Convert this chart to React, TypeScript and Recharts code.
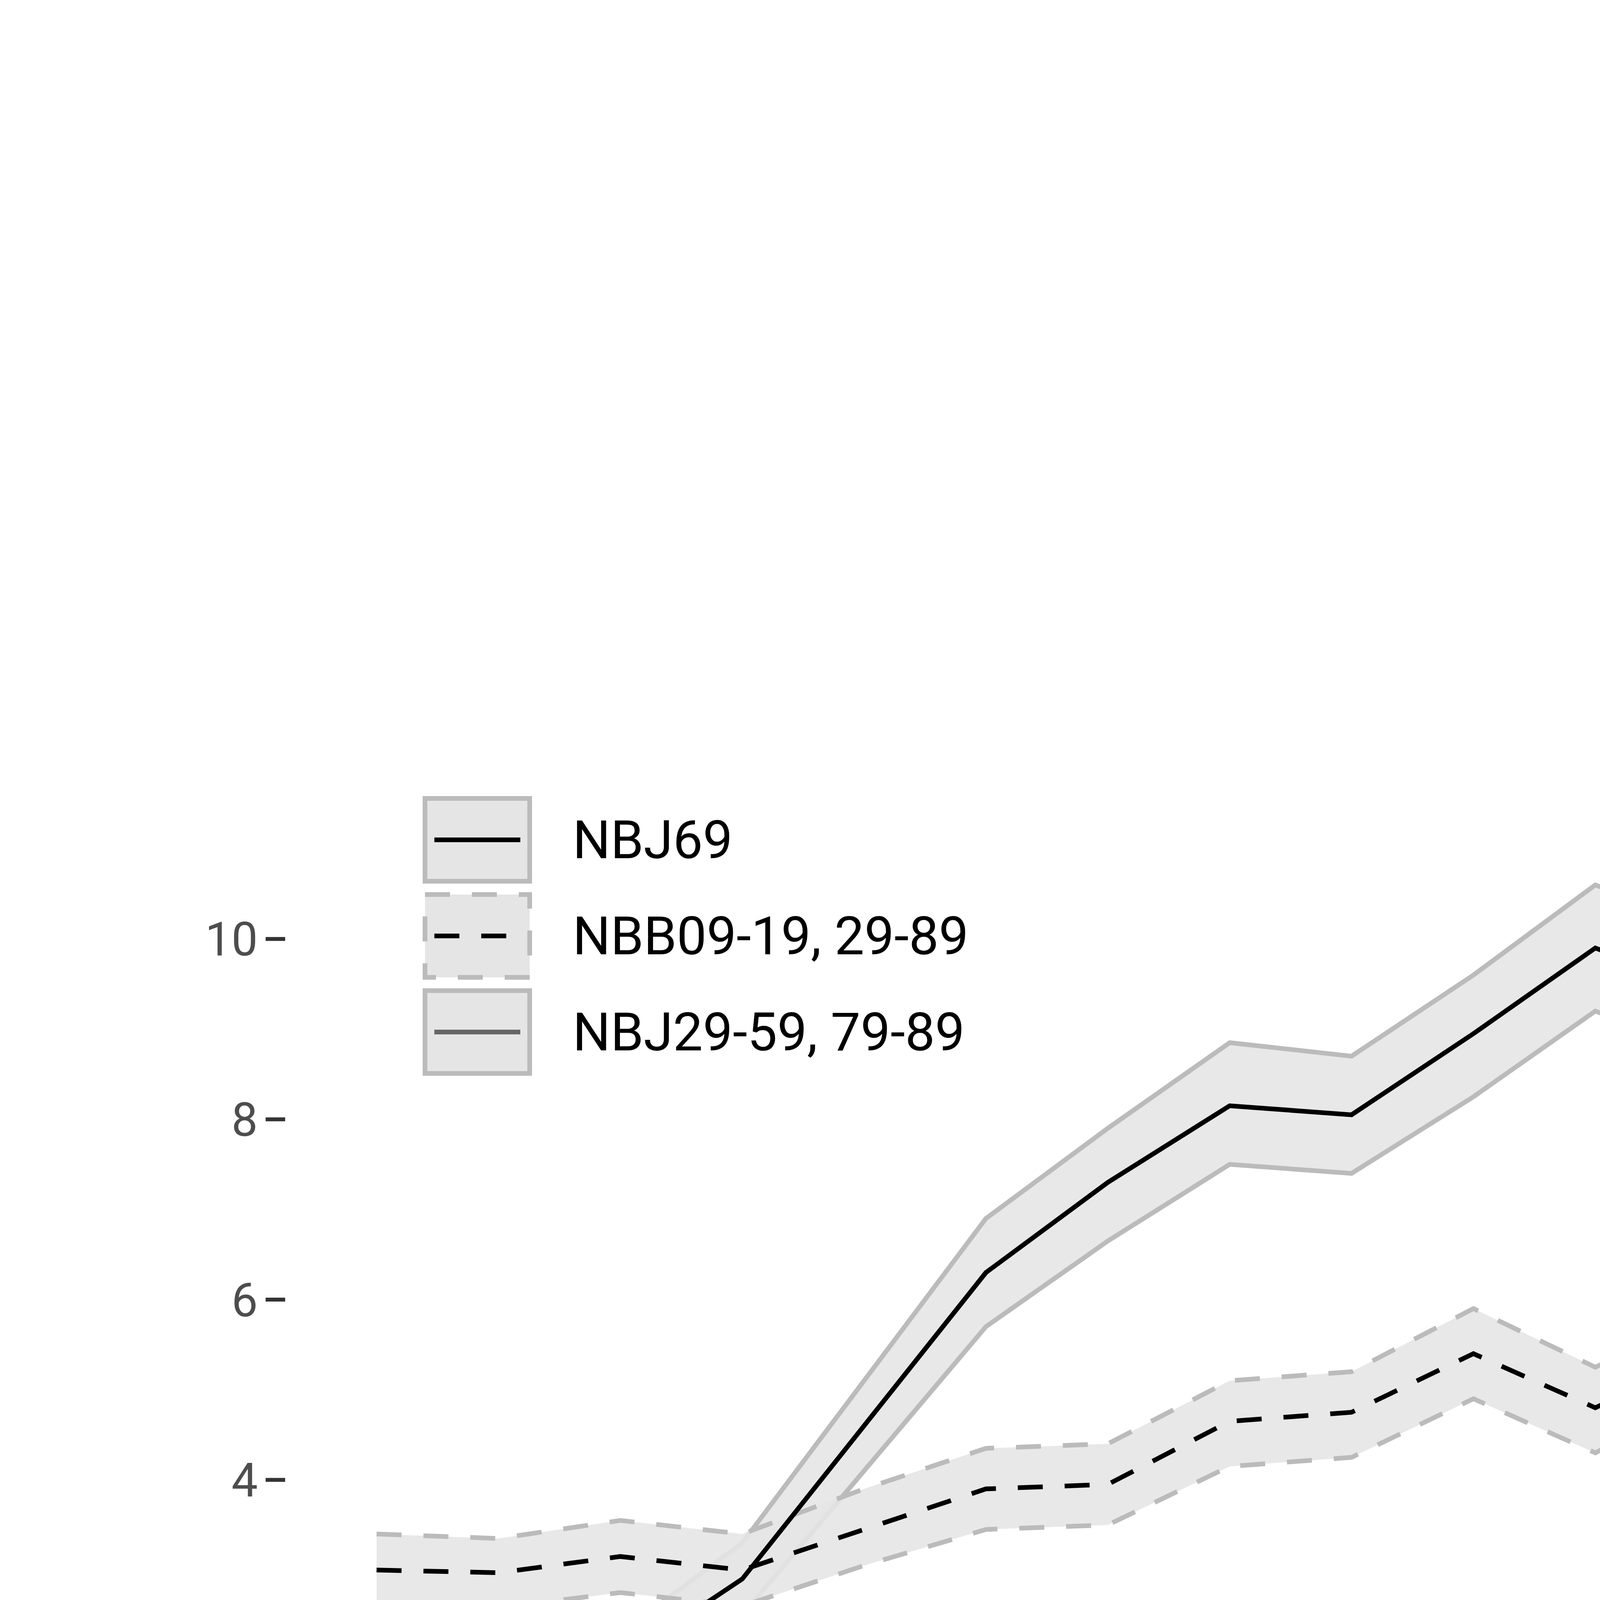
import React from 'react';
import { ComposedChart, Area, Line, XAxis, YAxis } from 'recharts';

const years = [2001, 2002, 2003, 2004, 2005, 2006, 2007, 2008, 2009, 2010, 2011, 2012, 2013, 2014, 2015, 2016];

const j69Mean = [0.8, 1.1, 2.0, 2.9, 4.6, 6.3, 7.3, 8.15, 8.05, 8.95, 9.9, 9.4, 9.5, 9.65, 9.1, 7.6];
const j69Hi = [1.05, 1.35, 2.3, 3.3, 5.1, 6.9, 7.9, 8.85, 8.7, 9.6, 10.6, 10.1, 10.2, 10.3, 9.75, 8.2];
const j69Lo = [0.6, 0.9, 1.6, 2.5, 4.1, 5.7, 6.65, 7.5, 7.4, 8.25, 9.2, 8.7, 8.8, 8.95, 8.45, 7.0];

const bbMean = [3.0, 2.97, 3.15, 3.0, 3.45, 3.9, 3.95, 4.65, 4.75, 5.4, 4.8, 5.45, 6.3, 6.95, 5.75, 5.3];
const bbHi = [3.4, 3.35, 3.55, 3.4, 3.9, 4.35, 4.4, 5.1, 5.2, 5.9, 5.25, 5.9, 6.85, 7.5, 6.3, 5.85];
const bbLo = [2.6, 2.58, 2.75, 2.6, 3.05, 3.45, 3.5, 4.15, 4.25, 4.9, 4.3, 5.0, 5.8, 6.35, 5.2, 4.8];

const j29Mean = [1.55, 1.35, 1.3, 1.5, 1.45, 1.3, 1.38, 1.28, 1.33, 1.35, 1.6, 1.6, 2.0, 1.65, 1.65, 1.35];
const j29Hi = [1.85, 1.62, 1.55, 1.8, 1.72, 1.57, 1.65, 1.5, 1.57, 1.6, 1.88, 1.88, 2.3, 1.95, 1.93, 1.6];
const j29Lo = [1.25, 1.1, 1.0, 1.22, 1.17, 1.02, 1.1, 1.0, 1.07, 1.1, 1.32, 1.32, 1.7, 1.37, 1.37, 1.1];

const xTicks = [2001, 2003, 2005, 2007, 2009, 2011, 2013, 2015];
const yTicks = [0, 2, 4, 6, 8, 10];

const labels = ['NBJ69', 'NBB09-19, 29-89', 'NBJ29-59, 79-89'];

const data = years.map((year, i) => ({
  year,
  j69: j69Mean[i], j69r: [j69Lo[i], j69Hi[i]],
  bb: bbMean[i], bbr: [bbLo[i], bbHi[i]],
  j29: j29Mean[i], j29r: [j29Lo[i], j29Hi[i]],
}));

const tickStyle = { fill: '#4d4d4d', fontSize: 120, fontFamily: 'Roboto' };

function LegendBox() {
  const keys = [
    { stroke: '#000', dash: undefined, boxDash: undefined },
    { stroke: '#000', dash: '64 56', boxDash: '64 56' },
    { stroke: '#666', dash: undefined, boxDash: undefined },
  ];
  return (
    <svg width={2200} height={740} style={{ position: 'absolute', left: 1082, top: 2038, overflow: 'visible' }}>
      {keys.map((k, i) => (
        <g key={i} transform={`translate(0, ${i * 246})`}>
          <rect x={6} y={6} width={268} height={212} fill="#e5e5e5" stroke="#bbb" strokeWidth={12} strokeDasharray={k.boxDash} />
          <line x1={30} x2={250} y1={112} y2={112} stroke={k.stroke} strokeWidth={12} strokeDasharray={k.dash} />
          <text x={384} y={112} dominantBaseline="central" fontSize={136} fontFamily="Roboto" fill="#000">{labels[i]}</text>
        </g>
      ))}
    </svg>
  );
}

export default function App() {
  return (
    <div style={{ position: 'absolute', left: 0, top: 0, width: 6250, height: 6250, background: '#fff' }}>
      <ComposedChart width={6250} height={6250} data={data}
        margin={{ top: 2150, left: 430, right: 372, bottom: 1123 }}>
        <XAxis dataKey="year" type="number" domain={[2000.25, 2016.75]} ticks={xTicks}
          axisLine={false} tickSize={50} tickLine={{ stroke: '#333', strokeWidth: 10 }}
          tickMargin={20} height={300} tick={tickStyle} />
        <YAxis type="number" domain={[-0.5, 11.1]} ticks={yTicks} width={300}
          axisLine={false} tickSize={50} tickLine={{ stroke: '#333', strokeWidth: 10 }}
          tickMargin={20} tick={tickStyle} />
        <Area dataKey="j69r" stroke="#bbb" strokeWidth={12} fill="#e5e5e5" fillOpacity={0.9} isAnimationActive={false} />
        <Area dataKey="bbr" stroke="#bbb" strokeWidth={12} strokeDasharray="64 56" fill="#e5e5e5" fillOpacity={0.9} isAnimationActive={false} />
        <Area dataKey="j29r" stroke="#bbb" strokeWidth={12} fill="#e5e5e5" fillOpacity={0.9} isAnimationActive={false} />
        <Line dataKey="j69" stroke="#000" strokeWidth={12} dot={false} isAnimationActive={false} />
        <Line dataKey="bb" stroke="#000" strokeWidth={12} strokeDasharray="64 56" dot={false} isAnimationActive={false} />
        <Line dataKey="j29" stroke="#666" strokeWidth={12} dot={false} isAnimationActive={false} />
      </ComposedChart>
      <LegendBox />
    </div>
  );
}
